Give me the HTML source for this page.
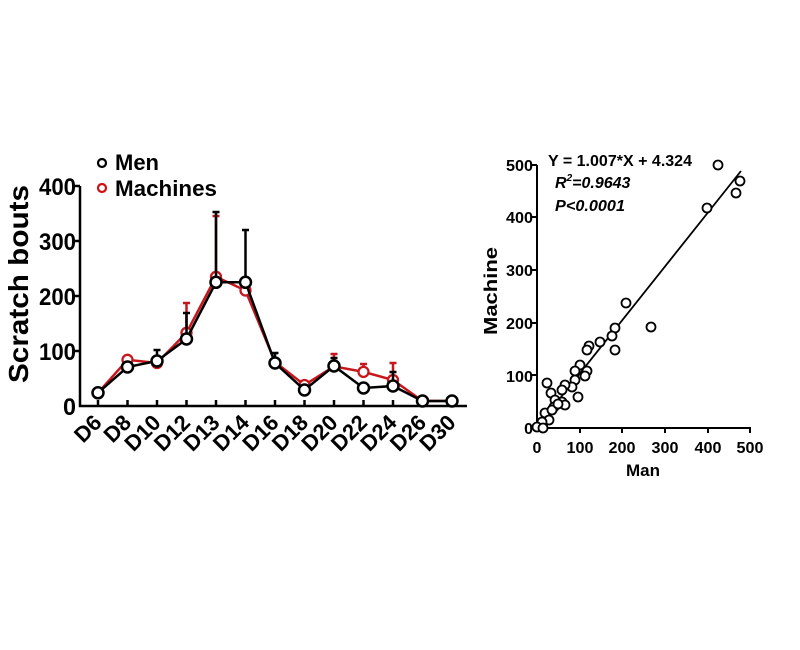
<!DOCTYPE html>
<html><head><meta charset="utf-8"><style>
html,body{margin:0;padding:0;background:#fff;}
svg{display:block;}
text{font-family:"Liberation Sans",Arial,sans-serif;font-weight:bold;fill:#000;}
</style></head><body>
<svg width="800" height="650" viewBox="0 0 800 650" xmlns="http://www.w3.org/2000/svg">
<rect width="800" height="650" fill="#fff"/>

<!-- LEFT CHART -->
<text transform="translate(28,284) rotate(-90)" font-size="28" text-anchor="middle" textLength="198" lengthAdjust="spacingAndGlyphs">Scratch bouts</text>
<g font-size="24" text-anchor="end">
<text x="76" y="195" textLength="37" lengthAdjust="spacingAndGlyphs">400</text>
<text x="76" y="250" textLength="37" lengthAdjust="spacingAndGlyphs">300</text>
<text x="76" y="305" textLength="37" lengthAdjust="spacingAndGlyphs">200</text>
<text x="76" y="360" textLength="37" lengthAdjust="spacingAndGlyphs">100</text>
<text x="76" y="415" textLength="13" lengthAdjust="spacingAndGlyphs">0</text>
</g>
<g stroke="#000" stroke-width="2.5" fill="none">
<path d="M80,186 L80,406 L467,406"/>
<path d="M74,186H80M74,241H80M74,296H80M74,351H80"/>
<path d="M98,406v-6M127.5,406v-6M157,406v-6M186.5,406v-6M216,406v-6M245.5,406v-6M275,406v-6M304.5,406v-6M334,406v-6M363.5,406v-6M393,406v-6M422.5,406v-6M452,406v-6"/>
</g>
<g font-size="22">
<text transform="translate(103,424) rotate(-45)" text-anchor="end">D6</text>
<text transform="translate(132.5,424) rotate(-45)" text-anchor="end">D8</text>
<text transform="translate(162,424) rotate(-45)" text-anchor="end">D10</text>
<text transform="translate(191.5,424) rotate(-45)" text-anchor="end">D12</text>
<text transform="translate(221,424) rotate(-45)" text-anchor="end">D13</text>
<text transform="translate(250.5,424) rotate(-45)" text-anchor="end">D14</text>
<text transform="translate(280,424) rotate(-45)" text-anchor="end">D16</text>
<text transform="translate(309.5,424) rotate(-45)" text-anchor="end">D18</text>
<text transform="translate(339,424) rotate(-45)" text-anchor="end">D20</text>
<text transform="translate(368.5,424) rotate(-45)" text-anchor="end">D22</text>
<text transform="translate(398,424) rotate(-45)" text-anchor="end">D24</text>
<text transform="translate(427.5,424) rotate(-45)" text-anchor="end">D26</text>
<text transform="translate(457,424) rotate(-45)" text-anchor="end">D30</text>
</g>

<!-- legend -->
<circle cx="102" cy="163" r="4" fill="#fff" stroke="#000" stroke-width="2.2"/>
<text x="115" y="170" font-size="22" textLength="44" lengthAdjust="spacingAndGlyphs">Men</text>
<circle cx="102" cy="188" r="4" fill="#fff" stroke="#d01010" stroke-width="2.2"/>
<text x="115" y="196" font-size="22" textLength="102" lengthAdjust="spacingAndGlyphs">Machines</text>

<!-- red series -->
<g stroke="#c8161d" stroke-width="2.5" fill="none">
<path d="M127.5,360V358.7M124,358.7h7M186.5,333V303M183,303h7M216,277V216M212.5,216h7M275,362V359M271.5,359h7M304.5,385V384M301,384h7M334,366V354M330.5,354h7M363.5,372V364M360,364h7M393,380V363M389.5,363h7"/>
<polyline points="98,392.8 127.5,359.8 157,363 186.5,332.8 216,276.8 245.5,290.5 275,362 304.5,385 334,366.4 363.5,371.9 393,380 422.5,401 452,401"/>
</g>
<g fill="#fff" stroke="#c8161d" stroke-width="2.3">
<circle cx="127.5" cy="359.8" r="5"/><circle cx="157" cy="363" r="5"/><circle cx="186.5" cy="332.8" r="5"/><circle cx="216" cy="276.8" r="5"/><circle cx="245.5" cy="290.5" r="5"/><circle cx="304.5" cy="385" r="5"/><circle cx="363.5" cy="371.9" r="5"/><circle cx="393" cy="380" r="5"/>
</g>

<!-- black series -->
<g stroke="#000" stroke-width="2.5" fill="none">
<path d="M157,361V350M153.5,350h7M186.5,339V313M183,313h7M216,282V212M212.5,212h7M245.5,282V230M242,230h7M275,363V353M271.5,353h7M334,366V358M330.5,358h7M393,386V372M389.5,372h7"/>
<polyline points="98,392.8 127.5,367 157,361 186.5,339 216,282.3 245.5,282.3 275,363 304.5,390 334,366 363.5,388 393,386 422.5,401 452,401"/>
</g>
<g fill="#fff" stroke="#000" stroke-width="2.5">
<circle cx="98" cy="392.8" r="5.5"/><circle cx="127.5" cy="367" r="5.5"/><circle cx="157" cy="361" r="5.5"/><circle cx="186.5" cy="339" r="5.5"/><circle cx="216" cy="282.3" r="5.5"/><circle cx="245.5" cy="282.3" r="5.5"/><circle cx="275" cy="363" r="5.5"/><circle cx="304.5" cy="390" r="5.5"/><circle cx="334" cy="366" r="5.5"/><circle cx="363.5" cy="388" r="5.5"/><circle cx="393" cy="386" r="5.5"/><circle cx="422.5" cy="401" r="5.5"/><circle cx="452" cy="401" r="5.5"/>
</g>

<!-- RIGHT CHART -->
<text transform="translate(497,291) rotate(-90)" font-size="18" text-anchor="middle" textLength="88" lengthAdjust="spacingAndGlyphs">Machine</text>
<g font-size="16" text-anchor="end">
<text x="533" y="171" textLength="27" lengthAdjust="spacingAndGlyphs">500</text>
<text x="533" y="223" textLength="27" lengthAdjust="spacingAndGlyphs">400</text>
<text x="533" y="276" textLength="27" lengthAdjust="spacingAndGlyphs">300</text>
<text x="533" y="329" textLength="27" lengthAdjust="spacingAndGlyphs">200</text>
<text x="533" y="382" textLength="27" lengthAdjust="spacingAndGlyphs">100</text>
<text x="533" y="434">0</text>
</g>
<g font-size="16" text-anchor="middle">
<text x="537" y="453">0</text>
<text x="580" y="453" textLength="27" lengthAdjust="spacingAndGlyphs">100</text>
<text x="622" y="453" textLength="27" lengthAdjust="spacingAndGlyphs">200</text>
<text x="665" y="453" textLength="27" lengthAdjust="spacingAndGlyphs">300</text>
<text x="708" y="453" textLength="27" lengthAdjust="spacingAndGlyphs">400</text>
<text x="750" y="453" textLength="27" lengthAdjust="spacingAndGlyphs">500</text>
</g>
<text x="643" y="476" font-size="17" text-anchor="middle" textLength="34" lengthAdjust="spacingAndGlyphs">Man</text>

<g stroke="#000" stroke-width="2" fill="none">
<path d="M537,165 L537,428 L751,428"/>
<path d="M532,165H537M532,217H537M532,270H537M532,323H537M532,375H537"/>
<path d="M580,428v5M622,428v5M665,428v5M708,428v5M750,428v5"/>
<line x1="538" y1="426" x2="741" y2="171" stroke-width="1.8"/>
</g>

<text x="548" y="166" font-size="16" textLength="144" lengthAdjust="spacingAndGlyphs">Y = 1.007*X + 4.324</text>
<text x="555" y="188" font-size="16" font-style="italic">R<tspan font-size="10" dy="-7">2</tspan><tspan dy="7">=0.9643</tspan></text>
<text x="555" y="211" font-size="16" font-style="italic" textLength="70" lengthAdjust="spacingAndGlyphs">P&lt;0.0001</text>

<g fill="#fff" stroke="#000" stroke-width="1.8">
<circle cx="718" cy="165" r="4.5"/>
<circle cx="740" cy="181" r="4.5"/>
<circle cx="736" cy="193" r="4.5"/>
<circle cx="707" cy="208" r="4.5"/>
<circle cx="626" cy="303" r="4.5"/>
<circle cx="651" cy="327" r="4.5"/>
<circle cx="615" cy="328" r="4.5"/>
<circle cx="612" cy="336" r="4.5"/>
<circle cx="615" cy="350" r="4.5"/>
<circle cx="600" cy="342" r="4.5"/>
<circle cx="589" cy="346" r="4.5"/>
<circle cx="587" cy="350" r="4.5"/>
<circle cx="580" cy="365" r="4.5"/>
<circle cx="587" cy="371" r="4.5"/>
<circle cx="575" cy="371" r="4.5"/>
<circle cx="585" cy="376" r="4.5"/>
<circle cx="575" cy="380" r="4.5"/>
<circle cx="572" cy="387" r="4.5"/>
<circle cx="565" cy="385" r="4.5"/>
<circle cx="562" cy="390" r="4.5"/>
<circle cx="578" cy="397" r="4.5"/>
<circle cx="547" cy="383" r="4.5"/>
<circle cx="551" cy="393" r="4.5"/>
<circle cx="555" cy="400" r="4.5"/>
<circle cx="554" cy="407" r="4.5"/>
<circle cx="562" cy="402" r="4.5"/>
<circle cx="565" cy="405" r="4.5"/>
<circle cx="545" cy="413" r="4.5"/>
<circle cx="549" cy="420" r="4.5"/>
<circle cx="542" cy="422" r="4.5"/>
<circle cx="537" cy="427" r="4.5"/>
<circle cx="543" cy="428" r="4.5"/>
<circle cx="552" cy="410" r="4.5"/>
<circle cx="558" cy="404" r="4.5"/>
</g>
</svg>
</body></html>
